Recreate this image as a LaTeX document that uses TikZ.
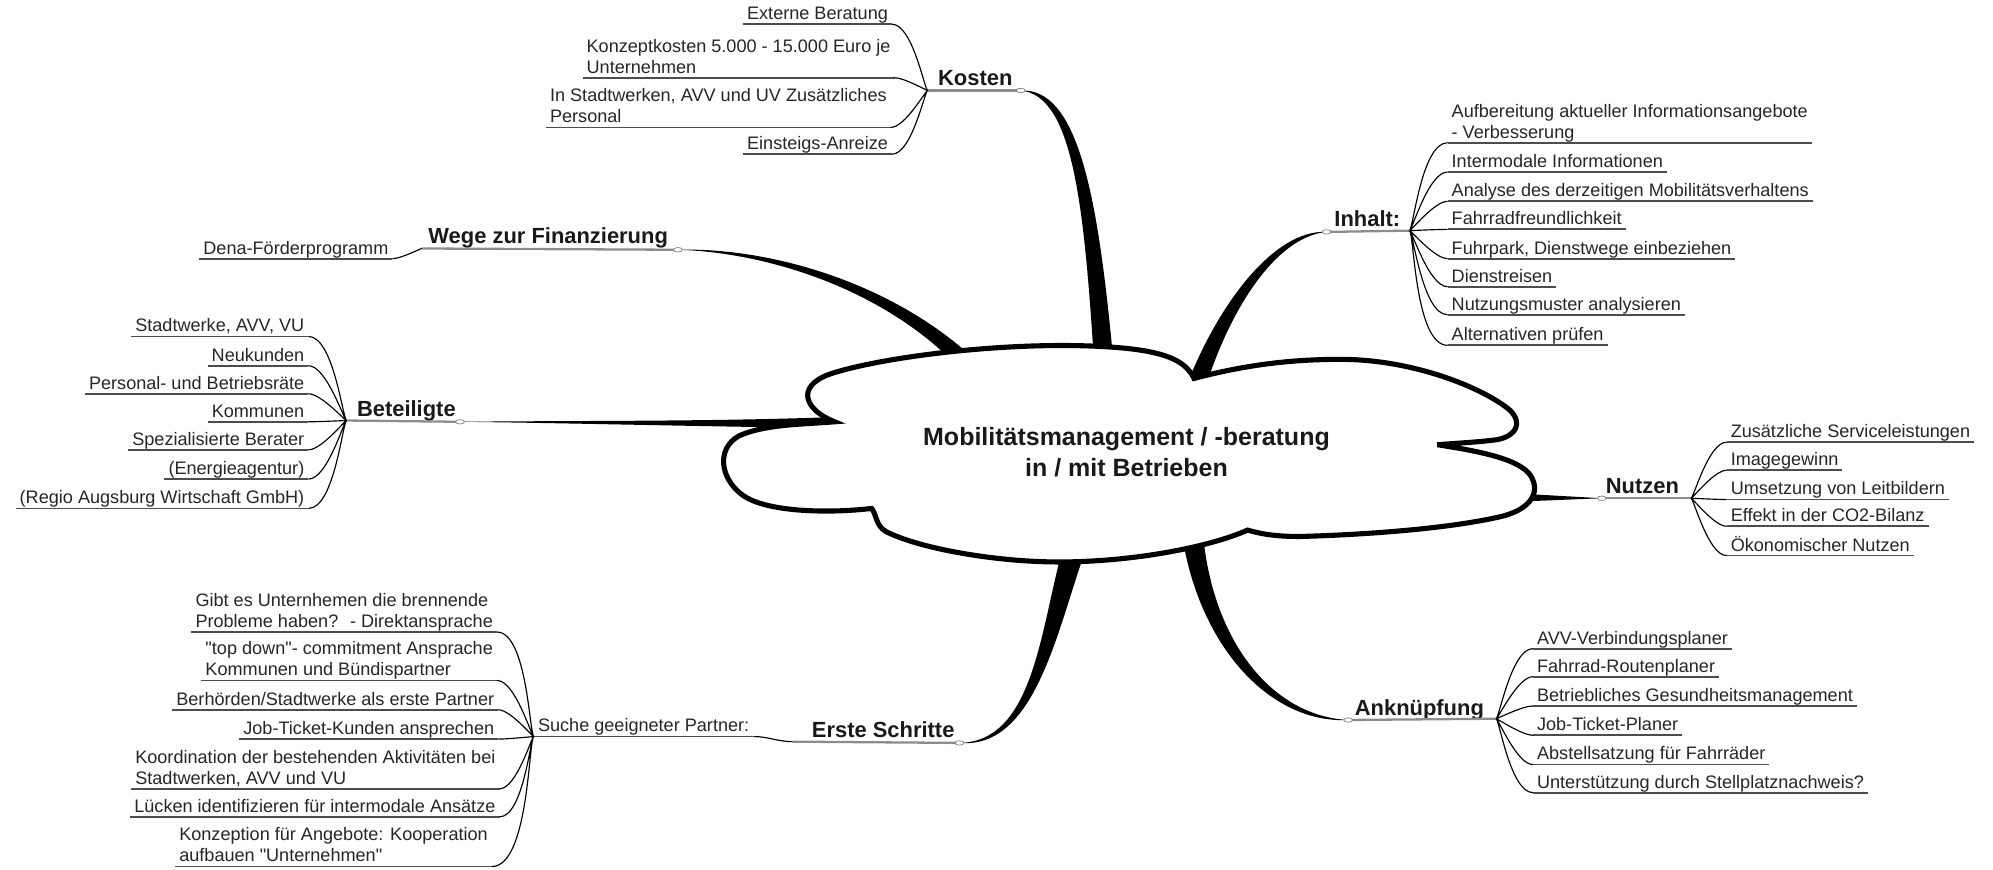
\documentclass[tikz,border=0pt]{standalone}
\usepackage{fontspec}
\setmainfont{Liberation Sans}
\usetikzlibrary{shapes.geometric}
\newcommand{\itemstrut}{\rule[-3.4pt]{0pt}{4pt}}
\newcommand{\dq}{\XeTeXglyph\XeTeXcharglyph"22\relax}
\tikzset{
	entry/.style={%
		inner xsep=3pt, inner ysep=0pt,
		align=left, text=black!85,
		font=\fontsize{14.2}{16.5}\selectfont,
		execute at end node=\itemstrut,
		append after command={(\tikzlastnode.south west) edge[uline] (\tikzlastnode.south east)}
	},
	head/.style={%
		inner xsep=3pt, inner ysep=0pt, text=black!90,
		font=\fontsize{17.2}{20}\selectfont\bfseries,
		execute at end node=\itemstrut
	},
	uline/.style={draw=black!70, line width=1.4pt},
	hline/.style={draw=black!45, line width=1.8pt},
	twig/.style={draw=black, line width=0.9pt},
	toleft/.style={twig, out=180, in=0, out looseness=0.1, in looseness=0.7},
	toright/.style={twig, out=0, in=180, out looseness=0.1, in looseness=0.7},
	spike/.style={fill=black},
	knot/.style={ellipse, draw=black!55, fill=white, line width=0.5pt,
		inner sep=0pt, minimum width=7pt, minimum height=3.5pt},
	cloud/.style={draw=black, fill=white, line width=4pt, miter limit=5}
}
\begin{document}
\begin{tikzpicture}[x=1pt, y=-1pt]
		\useasboundingbox (0,0) rectangle (1564,682);
		
		% ends of the main branches
		\coordinate (kostenJ) at (728,71);  \coordinate (kostenC) at (801,71);
		\coordinate (wegeJ) at (331,195);   \coordinate (wegeC) at (532,196);
		\coordinate (betJ) at (272,330);    \coordinate (betC) at (361,331);
		\coordinate (erstJ) at (622,582);   \coordinate (erstC) at (753,583);
		\coordinate (sucheJ) at (419,578);
		\coordinate (inhaltC) at (1041,182); \coordinate (inhaltJ) at (1106,181);
		\coordinate (nutzenC) at (1257,391); \coordinate (nutzenJ) at (1327,391);
		\coordinate (ankC) at (1058,565);   \coordinate (ankJ) at (1174,564);
		
		% thick branches into the cloud
		\fill[spike] (kostenC) .. controls (845,69) and (861,149) .. (873,276) -- (858,276) .. controls (850,151) and (840,75) .. (kostenC);
		\fill[spike] (wegeC) .. controls (600,194) and (692,219) .. (757,275) -- (747,283) .. controls (688,225) and (600,198) .. (wegeC);
		\fill[spike] (betC) .. controls (450,330) and (560,331) .. (662,327) -- (662,336) .. controls (560,335) and (450,332) .. (betC);
		\fill[spike] (erstC) .. controls (810,582) and (816,498) .. (833,434) -- (849,440) .. controls (828,502) and (810,588) .. (erstC);
		\fill[spike] (inhaltC) .. controls (1000,180) and (957,238) .. (933,298) -- (947,301) .. controls (965,245) and (1000,186) .. (inhaltC);
		\fill[spike] (1195,387.5) -- (nutzenC) -- (1195,393.5) -- cycle;
		\fill[spike] (ankC) .. controls (1000,568) and (945,513) .. (929,428) -- (945,428) .. controls (955,507) and (1000,562) .. (ankC);
		
		% the cloud
		\coordinate (nA) at (655,331);
		\coordinate (nB) at (937,297);
		\coordinate (nC) at (1128,349);
		\coordinate (nD) at (979,416);
		\coordinate (nE) at (684,399);
		\draw[cloud] (nA) .. controls (632,322) and (624,304) .. (650,294)
			.. controls (690,280) and (800,266) .. (880,273)
			.. controls (912,276) and (930,282) .. (nB)
			.. controls (975,287) and (1010,282) .. (1052,282)
			.. controls (1110,282) and (1165,305) .. (1185,322)
			.. controls (1195,332) and (1190,342) .. (1175,345)
			.. controls (1160,347) and (1140,348) .. (nC)
			.. controls (1160,354) and (1192,360) .. (1201,373)
			.. controls (1210,387) and (1200,401) .. (1175,406)
			.. controls (1130,416) and (1060,420) .. (1020,421)
			.. controls (1000,421) and (990,419) .. (nD)
			.. controls (950,429) and (890,441) .. (831,441)
			.. controls (780,441) and (720,430) .. (695,417)
			.. controls (687,412) and (688,404) .. (nE)
			.. controls (650,403) and (600,402) .. (582,388)
			.. controls (565,375) and (562,352) .. (580,342)
			.. controls (600,333) and (630,333) .. (nA) -- cycle;
		
		\node[font=\fontsize{19.6}{24}\selectfont\bfseries, align=center, text=black!90] (topic) at (884,355) {Mobilitätsmanagement / -beratung\\in / mit Betrieben};
		
		% headings
		\node[head, anchor=south west] (kosten) at (733,71) {Kosten};
		\node[head, anchor=south west] (wege) at (333,195) {Wege zur Finanzierung};
		\node[head, anchor=south west] (beteiligte) at (277,331) {Beteiligte};
		\node[head, anchor=south west] (erste) at (634,582) {Erste Schritte};
		\node[head, anchor=south west] (inhalt) at (1044,181) {Inhalt:};
		\node[head, anchor=south west] (nutzen) at (1257,391) {Nutzen};
		\node[head, anchor=south west] (ankn) at (1060,565) {Anknüpfung};
		
		\draw[hline] (kostenJ) -- (kostenC);
		\draw[hline] (wegeJ) -- (wegeC);
		\draw[hline] (betJ) -- (betC);
		\draw[hline] (erstJ) -- (erstC);
		\draw[hline] (inhaltC) -- (inhaltJ);
		\draw[hline] (nutzenC) -- (nutzenJ);
		\draw[hline] (ankC) -- (ankJ);
		
		% Kosten
		\node[entry, anchor=south east] (k1) at (700,19) {Externe Beratung};
		\node[entry, anchor=south east] (k2) at (702,61) {Konzeptkosten 5.000 - 15.000 Euro je\\Unternehmen\itemstrut};
		\node[entry, anchor=south east] (k3) at (699,100) {In Stadtwerken, AVV und UV Zusätzliches\\Personal\itemstrut};
		\node[entry, anchor=south east] (k4) at (700,121) {Einsteigs-Anreize};
		\draw[toleft] (kostenJ) to (k1.south east) (kostenJ) to (k2.south east)
			(kostenJ) to (k3.south east) (kostenJ) to (k4.south east);
		
		% Wege zur Finanzierung
		\node[entry, anchor=south east] (d1) at (308,203) {Dena-Förderprogramm};
		\draw[toleft] (wegeJ) to (d1.south east);
		
		% Beteiligte
		\node[entry, anchor=south east] (b1) at (242,264) {Stadtwerke, AVV, VU};
		\node[entry, anchor=south east] (b2) at (242,287) {Neukunden};
		\node[entry, anchor=south east] (b3) at (242,309) {Personal- und Betriebsräte};
		\node[entry, anchor=south east] (b4) at (242,331) {Kommunen};
		\node[entry, anchor=south east] (b5) at (242,353) {Spezialisierte Berater};
		\node[entry, anchor=south east] (b6) at (242,376) {(Energieagentur)};
		\node[entry, anchor=south east] (b7) at (242,399) {(Regio Augsburg Wirtschaft GmbH)};
		\draw[toleft] (betJ) to (b1.south east) (betJ) to (b2.south east)
			(betJ) to (b3.south east) (betJ) to (b4.south east)
			(betJ) to (b5.south east) (betJ) to (b6.south east)
			(betJ) to (b7.south east);
		
		% Erste Schritte
		\node[entry, anchor=south west] (suche) at (sucheJ) {Suche geeigneter Partner:};
		\draw[twig] (suche.south east) to[out=0, in=180] (erstJ);
		\node[entry, anchor=south east] (s1) at (390,496) {Gibt es Unternhemen die brennende\\Probleme haben?~ - Direktansprache\itemstrut};
		\node[entry, anchor=south east] (s2) at (390,534) {\dq top down\dq- commitment Ansprache\\Kommunen und Bündispartner\itemstrut};
		\node[entry, anchor=south east] (s3) at (391,557) {Berhörden/Stadtwerke als erste Partner};
		\node[entry, anchor=south east] (s4) at (391,580) {Job-Ticket-Kunden ansprechen};
		\node[entry, anchor=south east] (s5) at (392,619) {Koordination der bestehenden Aktivitäten bei\\Stadtwerken, AVV und VU\itemstrut};
		\node[entry, anchor=south east] (s6) at (392,641) {Lücken identifizieren für intermodale Ansätze};
		\node[entry, anchor=south east] (s7) at (386,680) {Konzeption für Angebote: Kooperation\\aufbauen \dq Unternehmen\dq\itemstrut};
		\draw[toleft] (sucheJ) to (s1.south east) (sucheJ) to (s2.south east)
			(sucheJ) to (s3.south east) (sucheJ) to (s4.south east)
			(sucheJ) to (s5.south east) (sucheJ) to (s6.south east)
			(sucheJ) to (s7.south east);
		
		% Inhalt
		\node[entry, anchor=south west] (i1) at (1136,112) {Aufbereitung aktueller Informationsangebote\\- Verbesserung\itemstrut};
		\node[entry, anchor=south west] (i2) at (1136,135) {Intermodale Informationen};
		\node[entry, anchor=south west] (i3) at (1136,158) {Analyse des derzeitigen Mobilitätsverhaltens};
		\node[entry, anchor=south west] (i4) at (1136,180) {Fahrradfreundlichkeit};
		\node[entry, anchor=south west] (i5) at (1136,203) {Fuhrpark, Dienstwege einbeziehen};
		\node[entry, anchor=south west] (i6) at (1136,225) {Dienstreisen};
		\node[entry, anchor=south west] (i7) at (1136,247) {Nutzungsmuster analysieren};
		\node[entry, anchor=south west] (i8) at (1136,271) {Alternativen prüfen};
		\draw[toright] (inhaltJ) to (i1.south west) (inhaltJ) to (i2.south west)
			(inhaltJ) to (i3.south west) (inhaltJ) to (i4.south west)
			(inhaltJ) to (i5.south west) (inhaltJ) to (i6.south west)
			(inhaltJ) to (i7.south west) (inhaltJ) to (i8.south west);
		
		% Nutzen
		\node[entry, anchor=south west] (n1) at (1355,347) {Zusätzliche Serviceleistungen};
		\node[entry, anchor=south west] (n2) at (1355,369) {Imagegewinn};
		\node[entry, anchor=south west] (n3) at (1355,392) {Umsetzung von Leitbildern};
		\node[entry, anchor=south west] (n4) at (1355,413) {Effekt in der CO2-Bilanz};
		\node[entry, anchor=south west] (n5) at (1355,436) {Ökonomischer Nutzen};
		\draw[toright] (nutzenJ) to (n1.south west) (nutzenJ) to (n2.south west)
			(nutzenJ) to (n3.south west) (nutzenJ) to (n4.south west)
			(nutzenJ) to (n5.south west);
		
		% Anknuepfung
		\node[entry, anchor=south west] (a1) at (1203,509) {AVV-Verbindungsplaner};
		\node[entry, anchor=south west] (a2) at (1203,531) {Fahrrad-Routenplaner};
		\node[entry, anchor=south west] (a3) at (1203,554) {Betriebliches Gesundheitsmanagement};
		\node[entry, anchor=south west] (a4) at (1203,577) {Job-Ticket-Planer};
		\node[entry, anchor=south west] (a5) at (1203,600) {Abstellsatzung für Fahrräder};
		\node[entry, anchor=south west] (a6) at (1203,622) {Unterstützung durch Stellplatznachweis?};
		\draw[toright] (ankJ) to (a1.south west) (ankJ) to (a2.south west)
			(ankJ) to (a3.south west) (ankJ) to (a4.south west)
			(ankJ) to (a5.south west) (ankJ) to (a6.south west);
		
		% small knots at the branch ends
		\node[knot] (kostenK) at (kostenC) {};
		\node[knot] (wegeK) at (wegeC) {};
		\node[knot] (betK) at (betC) {};
		\node[knot] (erstK) at (erstC) {};
		\node[knot] (inhaltK) at (inhaltC) {};
		\node[knot] (nutzenK) at (nutzenC) {};
		\node[knot] (ankK) at (ankC) {};
		
\end{tikzpicture}
\end{document}
